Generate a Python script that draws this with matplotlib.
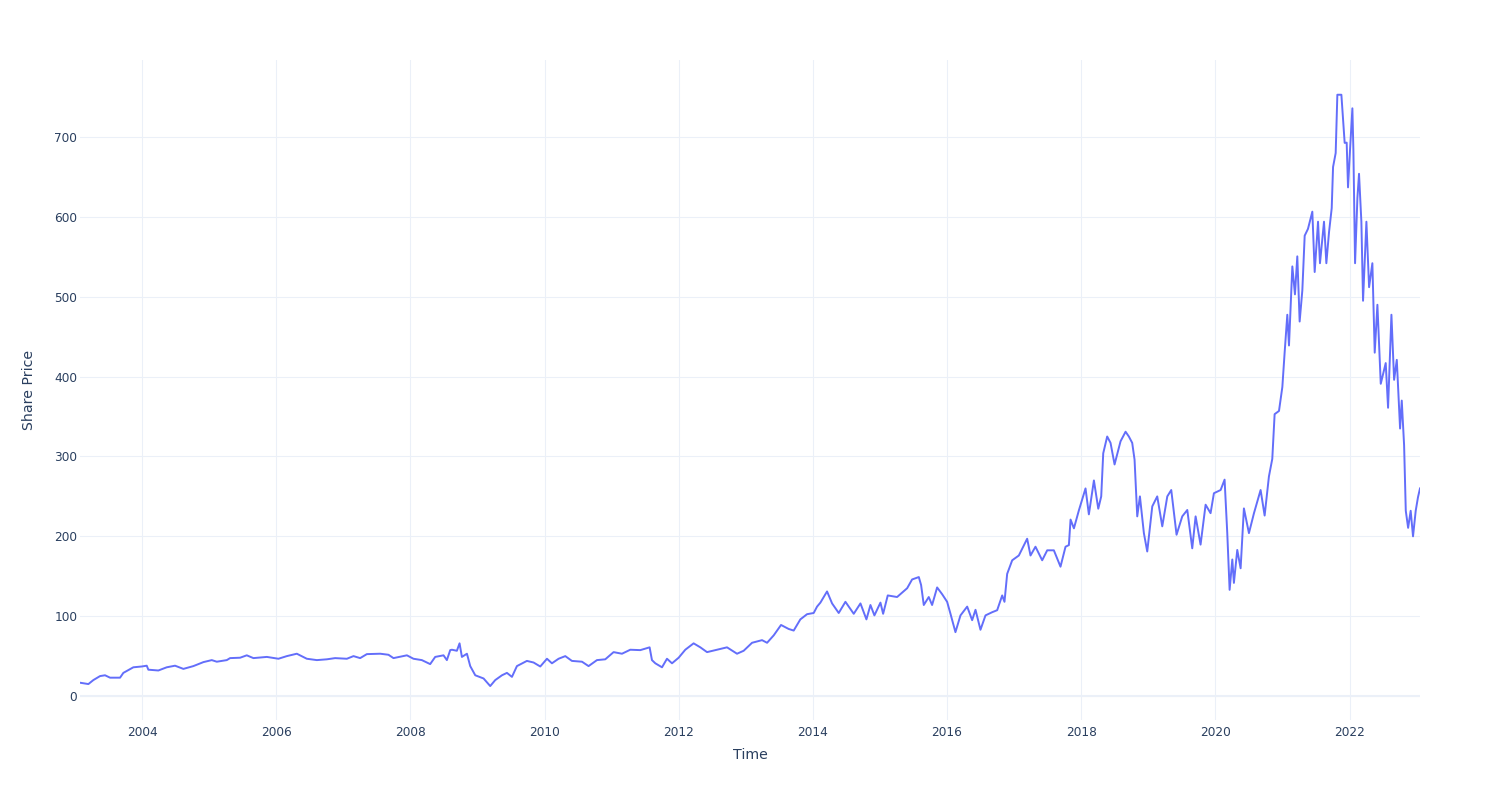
import matplotlib
matplotlib.use("Agg")
import matplotlib.pyplot as plt

# time as decimal year, price
year = [
    2003.075, 2003.200, 2003.274, 2003.374, 2003.448, 2003.523, 2003.672, 2003.721,
    2003.870, 2003.995, 2004.070, 2004.094, 2004.243, 2004.368, 2004.492, 2004.616,
    2004.765, 2004.915, 2005.039, 2005.114, 2005.263, 2005.312, 2005.462, 2005.561,
    2005.660, 2005.860, 2006.033, 2006.158, 2006.307, 2006.456, 2006.606, 2006.755,
    2006.878, 2007.053, 2007.152, 2007.251, 2007.351, 2007.550, 2007.673, 2007.748,
    2007.948, 2008.046, 2008.171, 2008.295, 2008.370, 2008.494, 2008.544, 2008.594,
    2008.619, 2008.693, 2008.733,
    2008.768, 2008.843, 2008.892, 2008.967, 2009.091, 2009.190, 2009.265, 2009.365,
    2009.439, 2009.514, 2009.588, 2009.737, 2009.836, 2009.936, 2010.036, 2010.110,
    2010.209, 2010.309, 2010.408, 2010.558, 2010.656, 2010.781, 2010.905, 2011.029,
    2011.154, 2011.278, 2011.427, 2011.566, 2011.601, 2011.651, 2011.751, 2011.825,
    2011.900, 2011.999, 2012.098, 2012.222, 2012.322, 2012.422, 2012.571, 2012.720,
    2012.869, 2012.968, 2013.093, 2013.242, 2013.317, 2013.416, 2013.525, 2013.639,
    2013.714, 2013.813, 2013.913, 2014.012, 2014.062, 2014.112, 2014.211, 2014.286,
    2014.385,
    2014.485, 2014.609, 2014.709, 2014.798, 2014.858, 2014.917, 2015.007, 2015.047,
    2015.116, 2015.255, 2015.405, 2015.479, 2015.579, 2015.613, 2015.653, 2015.727,
    2015.777, 2015.852, 2015.927, 2016.001, 2016.051, 2016.125, 2016.200, 2016.300,
    2016.374, 2016.424, 2016.498, 2016.573, 2016.673, 2016.747, 2016.822, 2016.856,
    2016.896, 2016.971, 2017.070, 2017.194, 2017.244, 2017.318, 2017.418, 2017.493,
    2017.592, 2017.691, 2017.766, 2017.816, 2017.841, 2017.891, 2017.965, 2018.064,
    2018.114, 2018.189, 2018.254,
    2018.298, 2018.328, 2018.387, 2018.437, 2018.497, 2018.586, 2018.661, 2018.710,
    2018.760, 2018.795, 2018.835, 2018.875, 2018.934, 2018.984, 2019.059, 2019.133,
    2019.208, 2019.283, 2019.342, 2019.421, 2019.506, 2019.581, 2019.655, 2019.705,
    2019.779, 2019.854, 2019.928, 2019.978, 2020.078, 2020.137, 2020.177, 2020.212,
    2020.252, 2020.276, 2020.326, 2020.376, 2020.425, 2020.500, 2020.575, 2020.674,
    2020.734, 2020.798, 2020.848, 2020.883, 2020.948, 2020.998, 2021.032, 2021.072,
    2021.097, 2021.147, 2021.186, 2021.221, 2021.256, 2021.296, 2021.331, 2021.380,
    2021.445, 2021.480, 2021.530, 2021.559, 2021.619, 2021.654, 2021.694, 2021.734,
    2021.754, 2021.793, 2021.818, 2021.878, 2021.927, 2021.957, 2021.977, 2022.007,
    2022.042, 2022.057, 2022.082, 2022.117, 2022.141, 2022.176, 2022.201, 2022.251,
    2022.291, 2022.340, 2022.375, 2022.415, 2022.465, 2022.539, 2022.574, 2022.624,
    2022.664, 2022.704, 2022.753, 2022.778, 2022.813, 2022.838, 2022.873, 2022.911,
    2022.946, 2022.986, 2023.020, 2023.050,
]
price = [
    16.7, 15.0, 20.0, 25.0, 26.0, 23.0, 23.0, 29.0,
    36.0, 37.0, 38.0, 33.0, 32.0, 36.0, 38.0, 34.0,
    37.5, 42.5, 45.0, 43.0, 45.0, 47.5, 48.0, 51.0,
    47.5, 49.0, 46.7, 50.0, 53.0, 46.7, 45.0, 46.0,
    47.5, 46.7, 50.0, 47.5, 52.5, 53.0, 51.7, 47.5,
    51.0, 46.7, 45.0, 40.0, 49.0, 51.0, 45.0, 57.5,
    58.0, 56.7, 66.0,
    49.0, 53.0, 37.5, 26.0, 22.0, 12.5, 20.0, 26.0,
    29.0, 24.0, 37.5, 44.0, 42.0, 37.0, 46.7, 41.0,
    46.7, 50.0, 44.0, 43.0, 37.5, 45.0, 46.0, 55.0,
    53.0, 58.0, 57.5, 61.0, 45.0, 41.0, 36.0, 46.7,
    41.0, 48.0, 58.0, 66.0, 61.0, 55.0, 58.0, 61.0,
    53.0, 56.7, 66.7, 70.0, 66.7, 76.0, 89.0, 84.0,
    82.0, 96.0, 102.5, 104.0, 112.0, 117.0, 131.0, 116.0,
    104.0,
    118.0, 103.0, 116.0, 96.0, 114.0, 101.0, 117.0, 103.0,
    126.0, 124.0, 135.0, 146.0, 149.0, 139.0, 114.0, 124.0,
    114.0, 136.0, 127.5, 118.0, 103.0, 80.0, 101.0, 112.0,
    95.0, 108.0, 83.0, 101.0, 105.0, 107.5, 126.0, 118.0,
    153.0, 170.0, 176.0, 197.0, 176.0, 187.0, 170.0, 182.5,
    182.5, 162.0, 187.0, 189.0, 221.0, 210.0, 232.5, 260.0,
    227.5, 270.0, 234.6,
    250.0, 304.0, 325.0, 317.0, 290.0, 319.0, 331.0, 325.0,
    317.0, 296.0, 225.0, 250.0, 204.0, 181.0, 237.5, 250.0,
    212.5, 250.0, 258.0, 202.0, 225.0, 233.0, 185.0, 225.0,
    189.6, 239.6, 229.0, 254.0, 258.0, 271.0, 204.0, 133.0,
    171.0, 141.7, 183.0, 160.0, 235.0, 204.0, 229.0, 258.0,
    226.0, 275.0, 297.0, 353.0, 357.0, 387.0, 430.0, 477.5,
    439.0, 538.0, 503.0, 550.6, 469.0, 508.0, 576.5, 585.0,
    606.6, 531.0, 594.0, 542.0, 594.0, 542.0, 581.0, 611.0,
    662.5, 680.0, 753.0, 753.0, 692.7, 693.0, 637.0, 684.0,
    736.0, 684.0, 542.0, 624.0, 654.0, 594.0, 495.0, 594.0,
    512.0, 542.0, 430.0, 490.0, 391.0, 417.0, 361.0, 477.5,
    396.0, 421.0, 335.0, 370.0, 314.0, 232.0, 210.6, 232.0,
    200.0, 232.0, 249.0, 260.0,
]

xticks = [2004, 2006, 2008, 2010, 2012, 2014, 2016, 2018, 2020, 2022]
yticks = [0, 100, 200, 300, 400, 500, 600, 700]

text_color = '#2a3f5f'
grid_color = '#ebf0f8'

fig = plt.figure(figsize=(15, 8), dpi=100)
ax = fig.add_axes([80 / 1500, 0.1, 1340 / 1500, 0.825])

ax.plot(year, price, color='#636efa', linewidth=1.4, solid_joinstyle='round', zorder=3)
ax.axhline(0, color=grid_color, linewidth=1.5, zorder=1)

ax.set_xlim(year[0], year[-1])
ax.set_ylim(-30, 796.5)
ax.set_xticks(xticks)
ax.set_xticklabels([str(t) for t in xticks])
ax.set_yticks(yticks)

ax.grid(True, color=grid_color, linewidth=0.75, zorder=0)
ax.set_axisbelow(True)
for s in ax.spines.values():
    s.set_visible(False)
ax.tick_params(length=0, labelsize=8.7, labelcolor=text_color)
ax.tick_params(axis='x', pad=4)
ax.tick_params(axis='y', pad=2)

ax.set_xlabel('Time', fontsize=10.2, color=text_color, labelpad=7)
ax.set_ylabel('Share Price', fontsize=10.2, color=text_color, labelpad=13)

fig.savefig('out.png', dpi=100, facecolor='white')
